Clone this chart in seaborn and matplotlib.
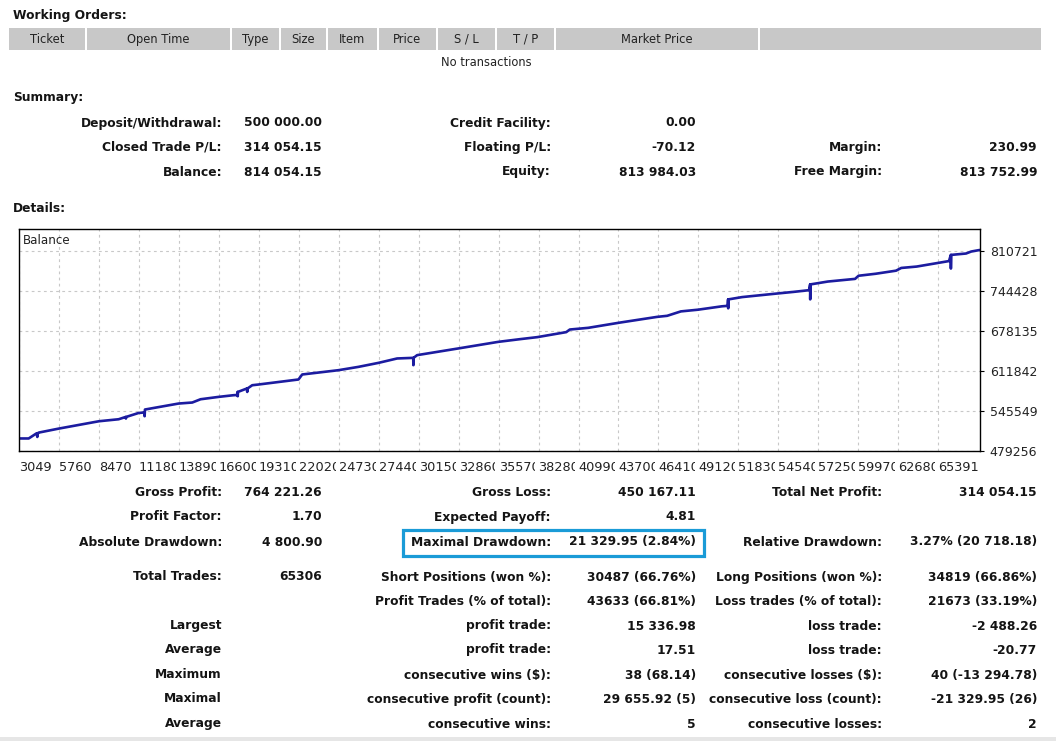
import matplotlib
matplotlib.use("Agg")
import matplotlib.pyplot as plt
from matplotlib.patches import Rectangle
import seaborn as sns
import pandas as pd

# ---------------- data ----------------
trade_no = [3049, 3706, 4248, 4290, 4330, 4404, 5759, 8470, 9805, 10279, 10300, 10320,
            11160, 11540, 11567, 11590, 13870, 14799, 15361, 16581, 17597, 17860, 17868,
            17880, 17900, 18500, 18525, 18550, 18864, 19291, 22001, 22252, 24712, 26067,
            27422, 28689, 29780, 29793, 29810, 30045, 32840, 35550, 37040, 38193, 40157,
            40401, 41648, 43749, 46310, 47001, 47930, 49088, 50708, 51100, 51132, 51140,
            51160, 52087, 54418, 55577, 56620, 56695, 56700, 56720, 57892, 59742, 59979,
            61138, 62520, 62873, 63917, 66112, 66234, 66240, 66260, 67267, 67620, 68189]
balance = [500000, 500000, 508600, 502500, 508900, 509800, 516400, 528500, 531800, 535600,
           533000, 535700, 542200, 543000, 536800, 547900, 557800, 559500, 564900, 568800,
           571600, 572000, 577000, 569900, 577100, 582700, 577000, 582800, 588100, 589300,
           597600, 605900, 613000, 618500, 625100, 632400, 633400, 621300, 633500, 637900,
           649000, 659900, 664400, 667700, 676000, 680300, 683100, 691600, 701200, 703000,
           710300, 713100, 718700, 719500, 730200, 715400, 730200, 734000, 739800, 742600,
           745400, 755000, 730200, 755000, 759700, 764100, 769300, 772600, 777700, 782200,
           784500, 793600, 803800, 781200, 803800, 806100, 809400, 811900]

x_ticks = [3049, 5760, 8470, 11180, 13890, 16600, 19310, 22020, 24730, 27440, 30150, 32860,
           35570, 38280, 40990, 43700, 46410, 49120, 51830, 54540, 57250, 59970, 62680, 65391]
y_ticks = [479256, 545549, 611842, 678135, 744428, 810721]
x_range = [3049, 68214]
y_range = [479256, 847500]

header_cols = ["Ticket", "Open Time", "Type", "Size", "Item", "Price", "S / L", "T / P", "Market Price", ""]
summary_rows = [
    ["Deposit/Withdrawal:", "500 000.00", "Credit Facility:", "0.00", "", ""],
    ["Closed Trade P/L:", "314 054.15", "Floating P/L:", "-70.12", "Margin:", "230.99"],
    ["Balance:", "814 054.15", "Equity:", "813 984.03", "Free Margin:", "813 752.99"],
]
detail_rows = [
    ["Gross Profit:", "764 221.26", "Gross Loss:", "450 167.11", "Total Net Profit:", "314 054.15"],
    ["Profit Factor:", "1.70", "Expected Payoff:", "4.81", "", ""],
    ["Absolute Drawdown:", "4 800.90", "Maximal Drawdown:", "21 329.95 (2.84%)", "Relative Drawdown:", "3.27% (20 718.18)"],
    ["Total Trades:", "65306", "Short Positions (won %):", "30487 (66.76%)", "Long Positions (won %):", "34819 (66.86%)"],
    ["", "", "Profit Trades (% of total):", "43633 (66.81%)", "Loss trades (% of total):", "21673 (33.19%)"],
    ["Largest", "", "profit trade:", "15 336.98", "loss trade:", "-2 488.26"],
    ["Average", "", "profit trade:", "17.51", "loss trade:", "-20.77"],
    ["Maximum", "", "consecutive wins ($):", "38 (68.14)", "consecutive losses ($):", "40 (-13 294.78)"],
    ["Maximal", "", "consecutive profit (count):", "29 655.92 (5)", "consecutive loss (count):", "-21 329.95 (26)"],
    ["Average", "", "consecutive wins:", "5", "consecutive losses:", "2"],
]

# ---------------- figure ----------------
sns.set_theme(style="white")
plt.rcParams['font.family'] = ['DejaVu Sans']
W, H = 1056, 741
fig = plt.figure(figsize=(W / 100, H / 100), dpi=100)
fig.patch.set_facecolor("white")

TXT = "#141414"


def T(x, y, s, ha="left", bold=True, size=8.8, color=TXT):
    fig.text(x / W, 1 - y / H, s, ha=ha, va="center", fontsize=size,
             fontweight="bold" if bold else "normal", color=color)


def R(x0, y0, x1, y1, **kw):
    fig.patches.append(Rectangle((x0 / W, 1 - y1 / H), (x1 - x0) / W, (y1 - y0) / H,
                                 transform=fig.transFigure, figure=fig, **kw))


# Working orders
T(13, 15, "Working Orders:")
seps = [9, 86, 231, 280, 327, 378, 437, 496, 555, 759, 1042]
for i, name in enumerate(header_cols):
    x0, x1 = seps[i], seps[i + 1]
    R(x0 + (0 if i == 0 else 1), 28, x1 - 1, 50, facecolor="#c8c8c8", edgecolor="none")
    if name:
        T((x0 + x1) / 2, 39.5, name, ha="center", bold=False, size=8.3, color="#222222")
T(486, 63, "No transactions", ha="center", bold=False, size=8.3, color="#222222")

# Summary
T(13, 98, "Summary:")
col_x = [(222, "right"), (322, "right"), (551, "right"), (696, "right"), (882, "right"), (1037, "right")]
for r, row in enumerate(summary_rows):
    y = 123 + r * 24.5
    for (cx, ha), s in zip(col_x, row):
        if s:
            T(cx, y, s, ha=ha)

T(13, 208, "Details:")

# Details table
detail_y = [493, 517, 542, 577, 601, 626, 650, 675, 699, 724]
for y, row in zip(detail_y, detail_rows):
    for (cx, ha), s in zip(col_x, row):
        if s:
            T(cx, y, s, ha=ha)

# highlight box
R(403, 529.5, 704, 556, facecolor="none", edgecolor="#1a9bd7", linewidth=2.3)

# bottom band
R(0, 737, W, H, facecolor="#e6e6e6", edgecolor="none")

# ---------------- chart ----------------
ax = fig.add_axes([19 / W, 1 - 451 / H, (980 - 19) / W, (451 - 228.5) / H])
df = pd.DataFrame({"trade": trade_no, "balance": balance})
sns.lineplot(data=df, x="trade", y="balance", ax=ax, sort=False, estimator=None,
             color="#1c1ca0", linewidth=1.9)
ax.set_xlim(*x_range)
ax.set_ylim(*y_range)
ax.set_xlabel("")
ax.set_ylabel("")
ax.set_xticks(x_ticks)
ax.set_xticklabels([str(v) for v in x_ticks])
ax.set_yticks(y_ticks)
ax.set_yticklabels([str(v) for v in y_ticks])
ax.yaxis.tick_right()
ax.tick_params(axis="both", direction="out", length=3, width=0.8, color="black",
               labelcolor="#222222")
ax.tick_params(axis="x", labelsize=9.3, pad=4.5)
ax.tick_params(axis="y", labelsize=9.0, pad=4)
for lab in ax.get_xticklabels():
    lab.set_horizontalalignment("left")
    lab.set_bbox(dict(facecolor="white", edgecolor="none", pad=2.2))
ax.grid(True, color="#c8c8c8", linestyle=(0, (2.5, 3)), linewidth=0.8)
for sp in ax.spines.values():
    sp.set_visible(True)
    sp.set_color("black")
    sp.set_linewidth(1.0)
ax.text(4 / 961, 1 - 12.5 / 222.5, "Balance", transform=ax.transAxes, ha="left", va="center",
        fontsize=8.6, color="#222222")

fig.savefig("out.png", dpi=100, facecolor="white")
